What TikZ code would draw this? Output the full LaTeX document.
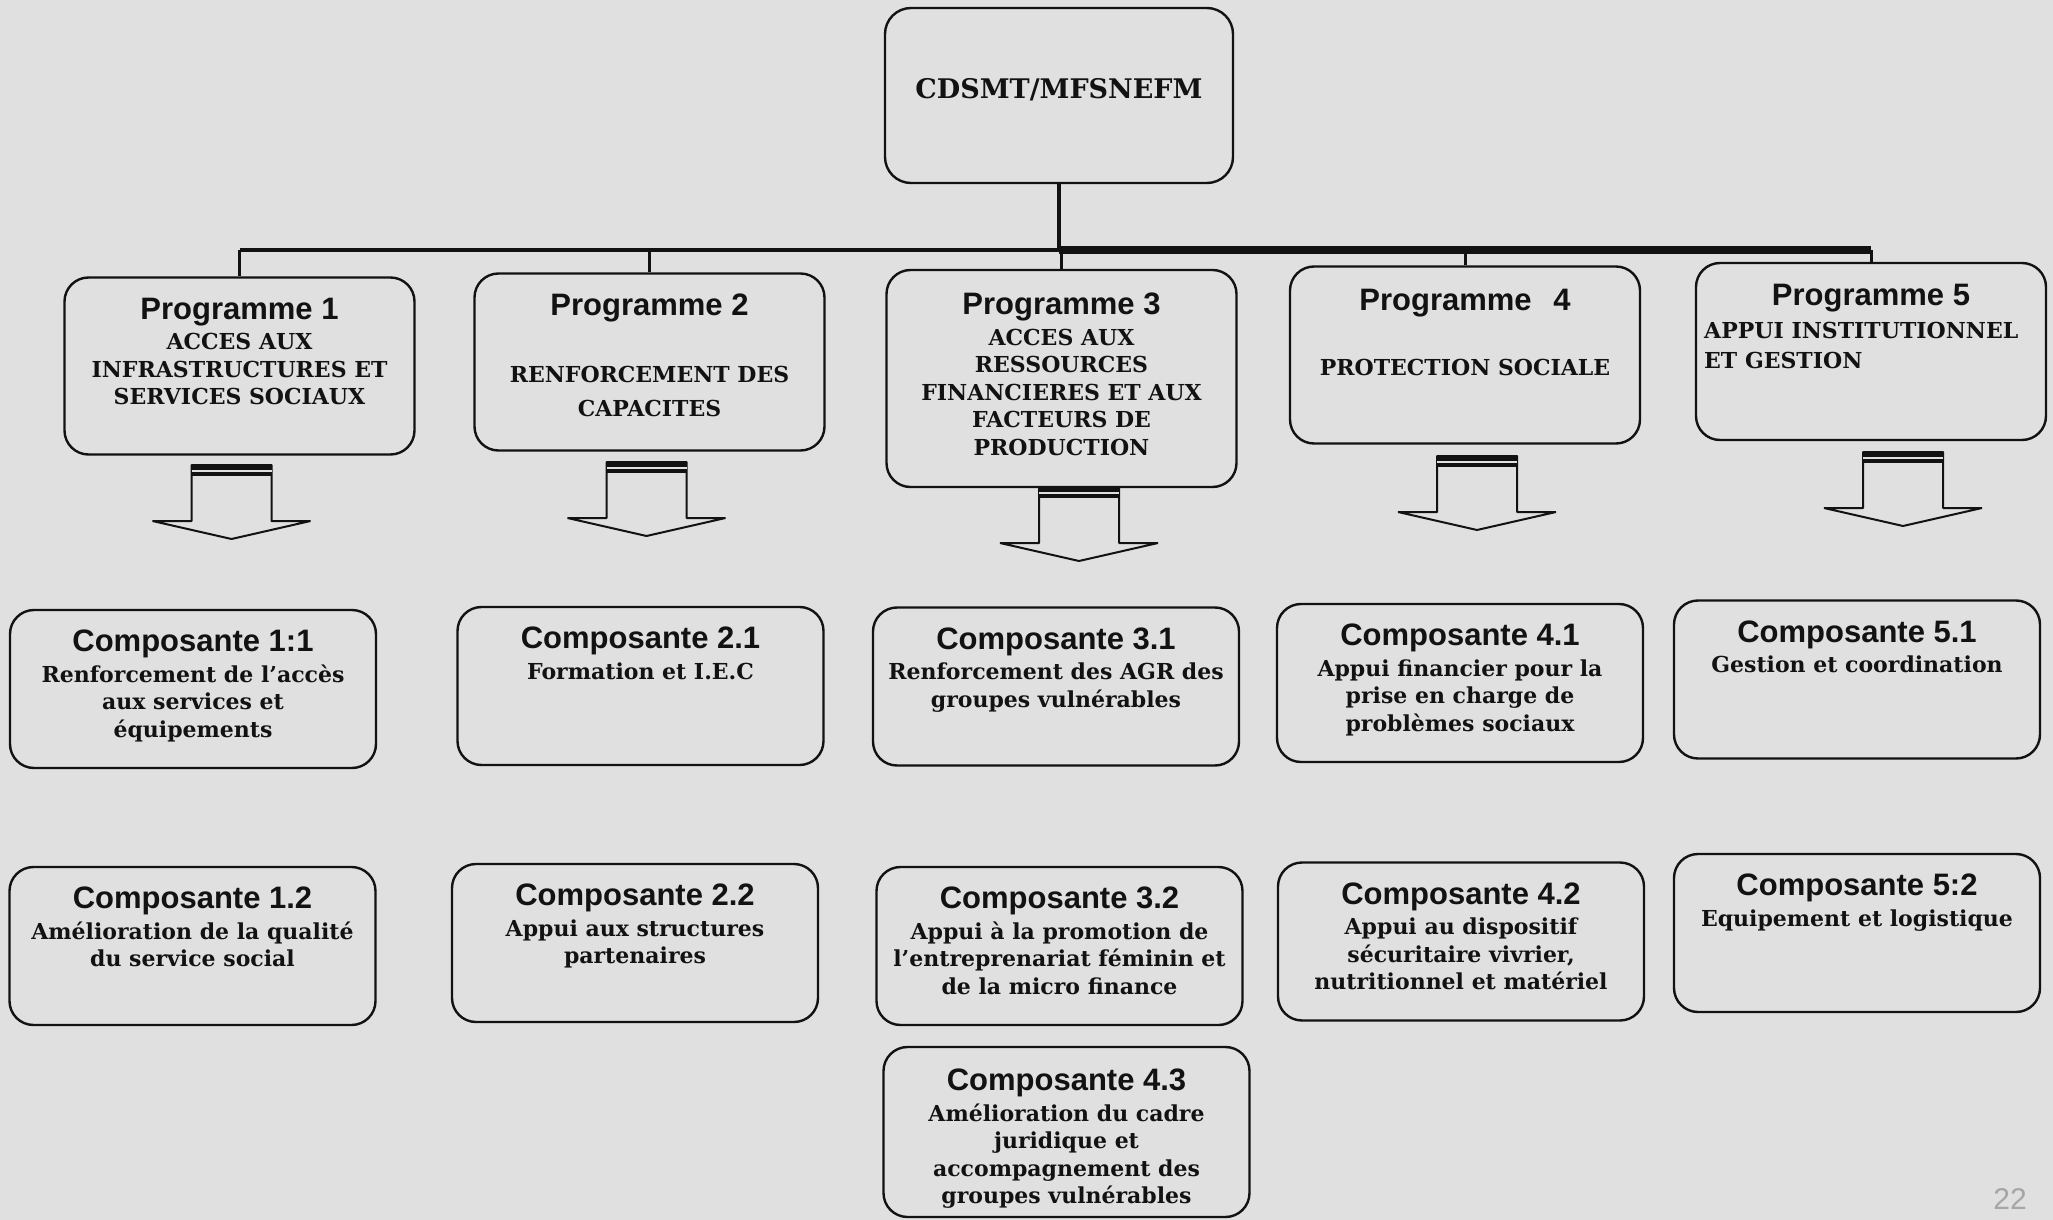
\documentclass[tikz,border=0pt]{standalone}
\usepackage{fontspec}
\newfontfamily\headfont{Liberation Sans}
\newfontfamily\bodyfont{DejaVu Serif}
\usetikzlibrary{calc,positioning}
\definecolor{paper}{RGB}{224,224,224}
\definecolor{ink}{RGB}{18,18,18}
\tikzstyle{root} = [draw=ink,line width=1.2pt,rounded corners=13pt,fill=paper,minimum width=174pt,minimum height=87.5pt,inner sep=0pt]
\tikzstyle{programme} = [draw=ink,line width=1.2pt,rounded corners=12pt,fill=paper,minimum width=175pt,minimum height=88.5pt,inner sep=0pt]
\tikzstyle{composante} = [draw=ink,line width=1.2pt,rounded corners=12pt,fill=paper,minimum width=183pt,minimum height=79pt,inner sep=0pt]
\tikzstyle{boxtext} = [align=center,anchor=north,inner sep=0pt,text=ink,font=\bodyfont\bfseries\fontsize{11}{13.75}\selectfont]
\tikzstyle{link} = [draw=ink,line width=1.5pt]
\tikzstyle{blockarrow} = [draw=ink,line width=1pt,fill=paper,line join=bevel]
\newcommand{\titre}[1]{{\headfont\bfseries\fontsize{15.5}{17}\selectfont #1}}

\begin{document}
\begin{tikzpicture}[x=0.5pt,y=-0.5pt]
  \useasboundingbox (0,0) rectangle (2053,1220);
  \fill[paper] (0,0) rectangle (2053,1220);

  % sommet
  \node (top)[root] at (1059,95.5) {};
  \node (topt)[boxtext,anchor=center,font=\bodyfont\bfseries\fontsize{13.5}{16}\selectfont] at ($(top)+(0,-6)$) {CDSMT/MFSNEFM};

  % programmes
  \node (p1)[programme] at (239.5,366) {};
  \node (p2)[programme] at (649.5,362) {};
  \node (p3)[programme,minimum height=108.5pt] at (1061.5,378.5) {};
  \node (p4)[programme] at (1465,355) {};
  \node (p5)[programme] at (1871,351.5) {};

  \node (p1t)[boxtext] at ($(p1.north)+(0,21)$) {\titre{Programme 1}\\[1.5pt]ACCES AUX\\INFRASTRUCTURES ET\\SERVICES SOCIAUX};
  \node (p2t)[boxtext] at ($(p2.north)+(0,21)$) {\titre{Programme 2}\\[20pt]RENFORCEMENT DES\\[3pt]CAPACITES};
  \node (p3t)[boxtext] at ($(p3.north)+(0,24)$) {\titre{Programme 3}\\[1.5pt]ACCES AUX\\RESSOURCES\\FINANCIERES ET AUX\\FACTEURS DE\\PRODUCTION};
  \node (p4t)[boxtext] at ($(p4.north)+(0,23)$) {\titre{Programme\hspace{0.7em}4}\\[19pt]PROTECTION SOCIALE};
  \node (p5t)[boxtext] at ($(p5.north)+(0,22)$) {\titre{Programme 5}};
  \node (p5b)[boxtext,anchor=north west,align=left] at ($(p5.north west)+(9,60)$) {APPUI INSTITUTIONNEL\\[1pt]ET GESTION};

  % liaisons
  \coordinate (bar) at (1059,250);
  \draw[link,line width=2pt] (top) -- (top |- bar);
  \draw[draw=ink,line width=1.7pt] (p1.north |- bar) -- (bar);
  \draw[draw=ink,line width=4pt] (bar) -- (p5.north |- bar);
  \foreach \p in {p1,p2,p3,p4,p5}
    \draw[link] (\p.north |- bar) -- (\p);

  % fleches
  \foreach \ax/\at in {231.5/465,646.5/462,1079/487,1477/456,1903/452} {
    \draw[blockarrow] (\ax-40,\at) -- (\ax-40,\at+56) -- (\ax-79,\at+56) -- (\ax,\at+74)
      -- (\ax+79,\at+56) -- (\ax+40,\at+56) -- (\ax+40,\at) -- cycle;
    \fill[ink] (\ax-40,\at) rectangle (\ax+40,\at+11);
    \draw[paper,line width=1pt] (\ax-40,\at+6) -- (\ax+40,\at+6);
  }

  % composantes
  \node (c11)[composante] at (193,689) {};
  \node (c21)[composante] at (640.5,686) {};
  \node (c31)[composante] at (1056,686.5) {};
  \node (c41)[composante] at (1460,683) {};
  \node (c51)[composante] at (1857,679.5) {};
  \node (c12)[composante] at (192.5,946) {};
  \node (c22)[composante] at (635,943) {};
  \node (c32)[composante] at (1059.5,946) {};
  \node (c42)[composante] at (1461,941.5) {};
  \node (c52)[composante] at (1857,933) {};
  \node (c43)[composante,minimum height=85pt] at (1066.5,1132) {};

  \node (c11t)[boxtext] at ($(c11.north)+(0,21)$) {\titre{Composante 1:1}\\[1.5pt]Renforcement de l’accès\\aux services et\\équipements};
  \node (c21t)[boxtext] at ($(c21.north)+(0,21)$) {\titre{Composante 2.1}\\[1.5pt]Formation et I.E.C};
  \node (c31t)[boxtext] at ($(c31.north)+(0,21)$) {\titre{Composante 3.1}\\[1.5pt]Renforcement des AGR des\\groupes vulnérables};
  \node (c41t)[boxtext] at ($(c41.north)+(0,21)$) {\titre{Composante 4.1}\\[1.5pt]Appui financier pour la\\prise en charge de\\problèmes sociaux};
  \node (c51t)[boxtext] at ($(c51.north)+(0,21)$) {\titre{Composante 5.1}\\[1.5pt]Gestion et coordination};
  \node (c12t)[boxtext] at ($(c12.north)+(0,21)$) {\titre{Composante 1.2}\\[1.5pt]Amélioration de la qualité\\du service social};
  \node (c22t)[boxtext] at ($(c22.north)+(0,21)$) {\titre{Composante 2.2}\\[1.5pt]Appui aux structures\\partenaires};
  \node (c32t)[boxtext] at ($(c32.north)+(0,21)$) {\titre{Composante 3.2}\\[1.5pt]Appui à la promotion de\\l’entreprenariat féminin et\\de la micro finance};
  \node (c42t)[boxtext] at ($(c42.north)+(0,21)$) {\titre{Composante 4.2}\\[1.5pt]Appui au dispositif\\sécuritaire vivrier,\\nutritionnel et matériel};
  \node (c52t)[boxtext] at ($(c52.north)+(0,21)$) {\titre{Composante 5:2}\\[1.5pt]Equipement et logistique};
  \node (c43t)[boxtext] at ($(c43.north)+(0,23)$) {\titre{Composante 4.3}\\[1.5pt]Amélioration du cadre\\juridique et\\accompagnement des\\groupes vulnérables};

  % numero de page
  \node (page)[text=gray!70,font=\headfont\fontsize{15}{15}\selectfont] at (2010,1199) {22};
\end{tikzpicture}
\end{document}
